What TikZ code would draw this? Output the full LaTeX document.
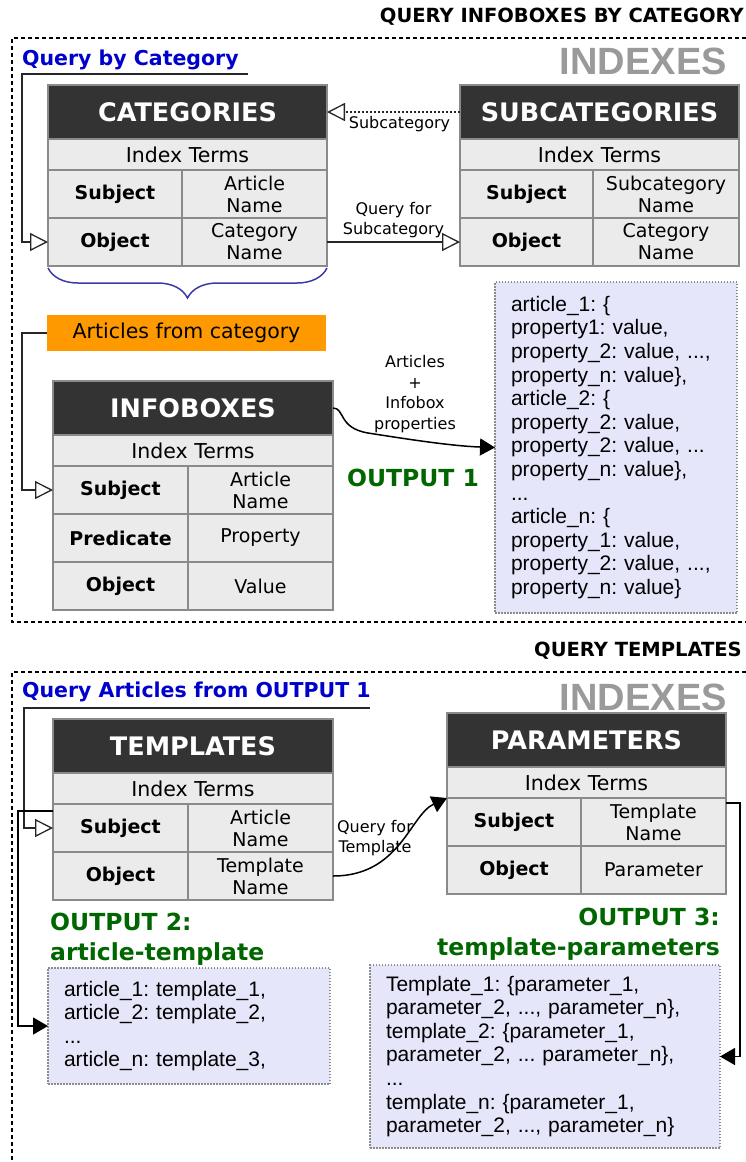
\documentclass[tikz,border=0pt]{standalone}
\usepackage{fontspec}
\setmainfont{DejaVu Sans}
\newfontfamily\arialfont{Liberation Sans}
\usepackage{xcolor}
\usetikzlibrary{arrows.meta,positioning,decorations.pathreplacing}

\definecolor{headgray}{HTML}{333333}
\definecolor{cellgray}{HTML}{EBEBEB}
\definecolor{cellline}{HTML}{8A8A8A}
\definecolor{artorange}{HTML}{FF9900}
\definecolor{outfill}{HTML}{E6E6FA}
\definecolor{outgray}{HTML}{8C8C8C}
\definecolor{outgreen}{HTML}{006600}
\definecolor{qblue}{HTML}{0000CC}
\definecolor{bracecol}{HTML}{3A3AA8}
\definecolor{idxgray}{HTML}{9A9A9A}

\begin{document}
\begin{tikzpicture}[
    x=1pt,
    y=-1pt,
    sectitle/.style={
        font=\fontsize{19.5}{22}\selectfont\bfseries,
        inner sep=0pt
    },
    querytitle/.style={
        font=\fontsize{20.5}{23}\selectfont\bfseries,
        text=qblue,
        inner sep=0pt
    },
    idxtitle/.style={
        font=\arialfont\fontsize{38}{40}\selectfont\bfseries,
        text=idxgray,
        inner sep=0pt
    },
    tblhead/.style={
        fill=headgray,
        draw=cellline,
        line width=1.2pt,
        text=white,
        font=\fontsize{25.5}{28}\selectfont\bfseries,
        minimum height=54pt,
        inner sep=0pt,
        outer sep=0pt,
        anchor=north west
    },
    tblrow/.style={
        fill=cellgray,
        draw=cellline,
        line width=1.2pt,
        align=center,
        inner sep=0pt,
        outer sep=0pt,
        anchor=north west
    },
    idxrow/.style={tblrow,font=\fontsize{20.5}{23}\selectfont,minimum height=31pt},
    keycell/.style={tblrow,font=\fontsize{19}{22}\selectfont\bfseries,minimum height=48pt},
    valcell/.style={tblrow,font=\fontsize{19}{22}\selectfont,minimum height=48pt},
    artbox/.style={
        fill=artorange,
        font=\fontsize{20.5}{23}\selectfont,
        minimum width=279pt,
        minimum height=36pt,
        inner sep=0pt,
        outer sep=0pt,
        anchor=north west
    },
    outbox/.style={
        draw=outgray,
        line width=1.5pt,
        dash pattern=on 1.5pt off 1.5pt,
        fill=outfill,
        align=left,
        inner xsep=16pt,
        inner ysep=0pt,
        outer sep=0pt,
        anchor=north west,
        font=\arialfont\fontsize{21}{23.6}\selectfont\frenchspacing
    },
    outlabel/.style={
        font=\fontsize{23.5}{30}\selectfont\bfseries,
        text=outgreen,
        inner sep=0pt
    },
    smalllabel/.style={
        font=\fontsize{16}{20.5}\selectfont,
        align=center,
        inner sep=0pt
    },
    frame/.style={line width=1.4pt,dash pattern=on 4pt off 3pt},
    openarrow/.style={
        line width=1.5pt,
        draw=black!85,
        -{Triangle[open,length=18pt,width=18pt,line width=1.3pt]}
    },
    fullarrow/.style={
        line width=1.5pt,
        -{Triangle[length=15pt,width=17pt]}
    }
]

\useasboundingbox (0,0) rectangle (746,1162);

% ---------------------------------------------------------
% Section 1: query infoboxes by category
% ---------------------------------------------------------

\node[sectitle,anchor=east] (sec1) at (744,17) {QUERY INFOBOXES BY CATEGORY};

\draw[frame] (746,38) -- (12,38) -- (12,622) -- (746,622);

\node[querytitle,anchor=west] (qcat) at (22,60) {Query by Category};
\node[idxtitle,anchor=east] (idx1) at (727,61) {INDEXES};

% CATEGORIES index
\node[tblhead,minimum width=279pt] (cat) at (48,85) {CATEGORIES};
\node[idxrow,minimum width=279pt] (cat-idx) at (cat.south west) {Index Terms};
\node[keycell,minimum width=134pt] (cat-subj) at (cat-idx.south west) {Subject};
\node[valcell,minimum width=145pt] (cat-subjv) at (cat-subj.north east) {Article\\Name};
\node[keycell,minimum width=134pt] (cat-obj) at (cat-subj.south west) {Object};
\node[valcell,minimum width=145pt] (cat-objv) at (cat-obj.north east) {Category\\Name};

% SUBCATEGORIES index
\node[tblhead,minimum width=279pt] (sub) at (460,85) {SUBCATEGORIES};
\node[idxrow,minimum width=279pt] (sub-idx) at (sub.south west) {Index Terms};
\node[keycell,minimum width=133pt] (sub-subj) at (sub-idx.south west) {Subject};
\node[valcell,minimum width=146pt] (sub-subjv) at (sub-subj.north east) {Subcategory\\Name};
\node[keycell,minimum width=133pt] (sub-obj) at (sub-subj.south west) {Object};
\node[valcell,minimum width=146pt] (sub-objv) at (sub-obj.north east) {Category\\Name};

% query entry
\coordinate (qcat-end) at (248,74);
\coordinate (qcat-rail) at (22,74);
\draw[openarrow] (qcat-end) -- (qcat-rail) |- (cat-obj.west);

% between the two indexes
\draw[openarrow,dash pattern=on 2pt off 2pt] (sub.west) -- (cat.east)
    node[midway,below=4pt,xshift=6pt,smalllabel] {Subcategory};

\draw[openarrow] (cat-objv.east) -- (sub-obj.west)
    node[midway,above=3pt,smalllabel] {Query for\\Subcategory};

% brace under categories
\draw[bracecol,line width=1.5pt,decorate,
    decoration={brace,mirror,amplitude=30pt}]
    ([yshift=-2pt]cat-obj.south west) -- ([yshift=-2pt]cat-objv.south east);

\node[artbox] (artcat) at (47,315) {Articles from category};

% INFOBOXES index
\node[tblhead,minimum width=280pt] (info) at (53,381) {INFOBOXES};
\node[idxrow,minimum width=280pt] (info-idx) at (info.south west) {Index Terms};
\node[keycell,minimum width=135pt] (info-subj) at (info-idx.south west) {Subject};
\node[valcell,minimum width=145pt] (info-subjv) at (info-subj.north east) {Article\\Name};
\node[keycell,minimum width=135pt] (info-pred) at (info-subj.south west) {Predicate};
\node[valcell,minimum width=145pt] (info-predv) at (info-pred.north east) {Property};
\node[keycell,minimum width=135pt] (info-obj) at (info-pred.south west) {Object};
\node[valcell,minimum width=145pt] (info-objv) at (info-obj.north east) {Value};

\coordinate (art-rail) at (22,333);
\draw[openarrow] (artcat.west) -- (art-rail) |- (info-subj.west);

% OUTPUT 1
\node[outbox,text width=210pt,minimum height=331pt] (out1) at (495,282)
{
article\_1: \{\\
property1: value,\\
property\_2: value, ...,\\
property\_n: value\},\\
article\_2: \{\\
property\_2: value,\\
property\_2: value, ...\\
property\_n: value\},\\
...\\
article\_n: \{\\
property\_1: value,\\
property\_2: value, ...,\\
property\_n: value\}
};

\node[smalllabel] (artlbl) at (415,394) {Articles\\+\\Infobox\\properties};
\node[outlabel] (out1lbl) at (413,478) {OUTPUT 1};

\draw[fullarrow] (info.east)
    .. controls (345,408) and (338,428) .. (368,433)
    .. controls (400,438) and (450,446) .. (out1.west);

% ---------------------------------------------------------
% Section 2: query templates
% ---------------------------------------------------------

\node[sectitle,anchor=east] (sec2) at (742,651) {QUERY TEMPLATES};

\draw[frame] (746,672) -- (12,672) -- (12,1162);

\node[querytitle,anchor=west] (qart) at (22,692) {Query Articles from OUTPUT 1};
\node[idxtitle,anchor=east] (idx2) at (727,697) {INDEXES};

% TEMPLATES index
\node[tblhead,minimum width=280pt] (tmpl) at (53,719) {TEMPLATES};
\node[idxrow,minimum width=280pt] (tmpl-idx) at (tmpl.south west) {Index Terms};
\node[keycell,minimum width=135pt] (tmpl-subj) at (tmpl-idx.south west) {Subject};
\node[valcell,minimum width=145pt] (tmpl-subjv) at (tmpl-subj.north east) {Article\\Name};
\node[keycell,minimum width=135pt] (tmpl-obj) at (tmpl-subj.south west) {Object};
\node[valcell,minimum width=145pt] (tmpl-objv) at (tmpl-obj.north east) {Template\\Name};

% PARAMETERS index
\node[tblhead,minimum width=279pt] (param) at (447,713) {PARAMETERS};
\node[idxrow,minimum width=279pt] (param-idx) at (param.south west) {Index Terms};
\node[keycell,minimum width=134pt] (param-subj) at (param-idx.south west) {Subject};
\node[valcell,minimum width=145pt] (param-subjv) at (param-subj.north east) {Template\\Name};
\node[keycell,minimum width=134pt] (param-obj) at (param-subj.south west) {Object};
\node[valcell,minimum width=145pt] (param-objv) at (param-obj.north east) {Parameter};

% OUTPUT 2 and OUTPUT 3
\node[outlabel,anchor=north west,align=left] (out2lbl) at (50,913) {OUTPUT 2:\\article-template};
\node[outlabel,anchor=north east,align=right] (out3lbl) at (720,908) {OUTPUT 3:\\template-parameters};

\node[outbox,text width=250pt,minimum height=116pt] (out2) at (48,968)
{
article\_1: template\_1,\\
article\_2: template\_2,\\
...\\
article\_n: template\_3,
};

\node[outbox,text width=318pt,minimum height=183pt] (out3) at (370,965)
{
Template\_1: \{parameter\_1,\\
parameter\_2, ..., parameter\_n\},\\
template\_2: \{parameter\_1,\\
parameter\_2, ... parameter\_n\},\\
...\\
template\_n: \{parameter\_1,\\
parameter\_2, ..., parameter\_n\}
};

% connectors
\coordinate (qart-end) at (370,708);
\coordinate (qart-rail) at (24,708);
\draw[openarrow] (qart-end) -- (qart-rail) |- (tmpl-subj.west);

\coordinate (tmpl-rail) at (18,811);
\draw[fullarrow] ([yshift=-7pt]tmpl-subj.north west) -- (tmpl-rail) |- (out2.west);

\draw[fullarrow] (tmpl-objv.east)
    .. controls (400,876) and (410,815) .. (param-subj.north west);
\node[smalllabel] (qtmpl) at (375,838) {Query for\\Template};

\coordinate (param-rail) at (740,803);
\draw[fullarrow] ([yshift=-5pt]param-subjv.north east) -- (param-rail) |- (out3.east);

\end{tikzpicture}
\end{document}
